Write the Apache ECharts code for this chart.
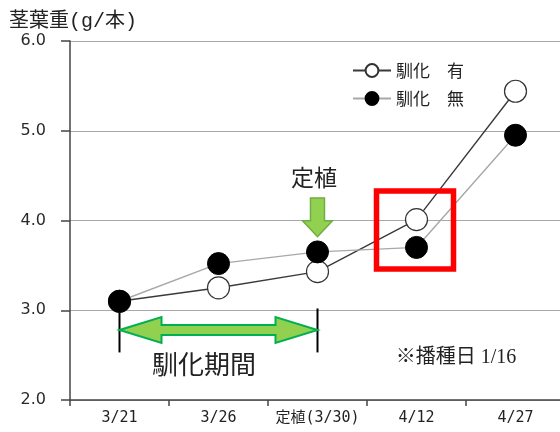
<!DOCTYPE html>
<html>
<head>
<meta charset="utf-8">
<script src="https://cdn.jsdelivr.net/npm/echarts@6/dist/echarts.min.js"></script>
<style>
html,body{margin:0;padding:0;background:#fff;}
#chart{width:560px;height:432px;}
</style>
</head>
<body>
<div id="chart"></div>
<script>
// 調査日
var categories = ['3/21', '3/26', '定植(3/30)', '4/12', '4/27'];
// 茎葉重 (g/本)
var withHardening = [3.10, 3.25, 3.43, 4.01, 5.44];
var withoutHardening = [3.10, 3.52, 3.65, 3.70, 4.95];
var seriesNames = ['馴化　有', '馴化　無'];
var yTicks = [2, 3, 4, 5, 6];

var JP = '"Noto Sans CJK JP", "Noto Sans", sans-serif';
var SERIF_JP = '"Liberation Serif", "Noto Sans CJK JP", serif';
var MONO_JP = '"Liberation Mono", "Noto Sans CJK JP", monospace';
var chart = echarts.init(document.getElementById('chart'));

chart.setOption({
  animation: false,
  backgroundColor: '#fff',
  title: {
    text: '茎葉重(g/本)',
    left: 4, top: 7,
    textStyle: { fontFamily: MONO_JP, fontSize: 20, fontWeight: 'normal', color: '#222' }
  },
  legend: {
    orient: 'vertical',
    left: 347, top: 57,
    itemGap: 11,
    itemWidth: 38, itemHeight: 16,
    data: seriesNames,
    textStyle: { fontFamily: JP, fontSize: 17, color: '#222' }
  },
  grid: { left: 70, right: -5, top: 41, bottom: 32, outerBoundsMode: 'none', containLabel: false },
  xAxis: {
    type: 'category',
    data: categories,
    boundaryGap: true,
    axisLine: { lineStyle: { color: '#444', width: 1.5 } },
    axisTick: { show: true, length: 6, lineStyle: { color: '#444', width: 1.5 } },
    axisLabel: { margin: 11, fontFamily: '"DejaVu Sans Mono", "Noto Sans CJK JP", monospace', fontSize: 15, color: '#222', interval: 0 }
  },
  yAxis: {
    type: 'value',
    min: yTicks[0], max: yTicks[yTicks.length - 1], interval: 1,
    axisLine: { show: true, lineStyle: { color: '#444', width: 1.5 } },
    axisTick: { show: true, length: 9, lineStyle: { color: '#444', width: 1.5 } },
    axisLabel: {
      margin: 24, fontFamily: '"DejaVu Sans", sans-serif', fontSize: 16, color: '#2a2a2a',
      formatter: function (v) { return v.toFixed(1); }
    },
    splitLine: { lineStyle: { color: '#a8a8a8', width: 1 } }
  },
  series: [
    {
      name: seriesNames[0], type: 'line', data: withHardening,
      symbol: 'circle', symbolSize: 22,
      lineStyle: { color: '#3a3a3a', width: 1.4 },
      itemStyle: { color: '#fff', borderColor: '#333', borderWidth: 1.2 },
      z: 2
    },
    {
      name: seriesNames[1], type: 'line', data: withoutHardening,
      symbol: 'circle', symbolSize: 22,
      lineStyle: { color: '#a8a8a8', width: 1.4 },
      itemStyle: { color: '#000', borderColor: '#000', borderWidth: 1 },
      z: 3
    }
  ]
});

// 注記（定植の矢印、馴化期間、強調枠）
function px(cat, val) { return chart.convertToPixel({ gridIndex: 0 }, [cat, val]); }

var pStart = px(0, 2.78);
var pPlant = px(2, 2.78);
var ay = pStart[1];
var x1 = pStart[0], x2 = pPlant[0];
var bodyH = 5, headH = 13, headL = 42;
var dblArrow = [
  [x1, ay], [x1 + headL, ay - headH], [x1 + headL, ay - bodyH],
  [x2 - headL, ay - bodyH], [x2 - headL, ay - headH], [x2, ay],
  [x2 - headL, ay + headH], [x2 - headL, ay + bodyH],
  [x1 + headL, ay + bodyH], [x1 + headL, ay + headH]
];

var topTick1 = px(0, 3.1), topTick2 = px(2, 3.02), bottomTick = px(0, 2.53);

var downTop = px(2, 4.25), downTip = px(2, 3.82);
var dx = downTop[0];
var dArrow = [
  [dx - 7, downTop[1]], [dx + 7, downTop[1]], [dx + 7, downTip[1] - 16],
  [dx + 15, downTip[1] - 16], [dx, downTip[1]], [dx - 15, downTip[1] - 16],
  [dx - 7, downTip[1] - 16]
];

var boxTL = px(3, 4.33), boxBR = px(3, 3.46);
var cx4 = boxTL[0];

chart.setOption({
  graphic: [
    { type: 'line', shape: { x1: x1, y1: topTick1[1], x2: x1, y2: bottomTick[1] },
      style: { stroke: '#000', lineWidth: 2 }, z: 1 },
    { type: 'line', shape: { x1: x2, y1: topTick2[1], x2: x2, y2: bottomTick[1] },
      style: { stroke: '#000', lineWidth: 2 }, z: 1 },
    { type: 'polygon', shape: { points: dblArrow },
      style: { fill: '#92d050', stroke: '#00b050', lineWidth: 2 }, z: 5 },
    { type: 'text', x: 204, y: 364,
      style: { text: '馴化期間', fill: '#222', font: '26px ' + JP, align: 'center', verticalAlign: 'middle' }, z: 5 },
    { type: 'text', x: 456, y: 358,
      style: { text: '※播種日 1/16', fill: '#222', font: '20px ' + SERIF_JP, align: 'center', verticalAlign: 'middle' }, z: 5 },
    { type: 'text', x: 314, y: 177,
      style: { text: '定植', fill: '#222', font: '23px ' + JP, align: 'center', verticalAlign: 'middle' }, z: 5 },
    { type: 'polygon', shape: { points: dArrow },
      style: { fill: '#92d050', stroke: '#70ad47', lineWidth: 1.5 }, z: 5 },
    { type: 'rect', shape: { x: cx4 - 40, y: boxTL[1], width: 77, height: boxBR[1] - boxTL[1] },
      style: { fill: 'none', stroke: '#ff0000', lineWidth: 5.5 }, z: 6 }
  ]
});
</script>
</body>
</html>
